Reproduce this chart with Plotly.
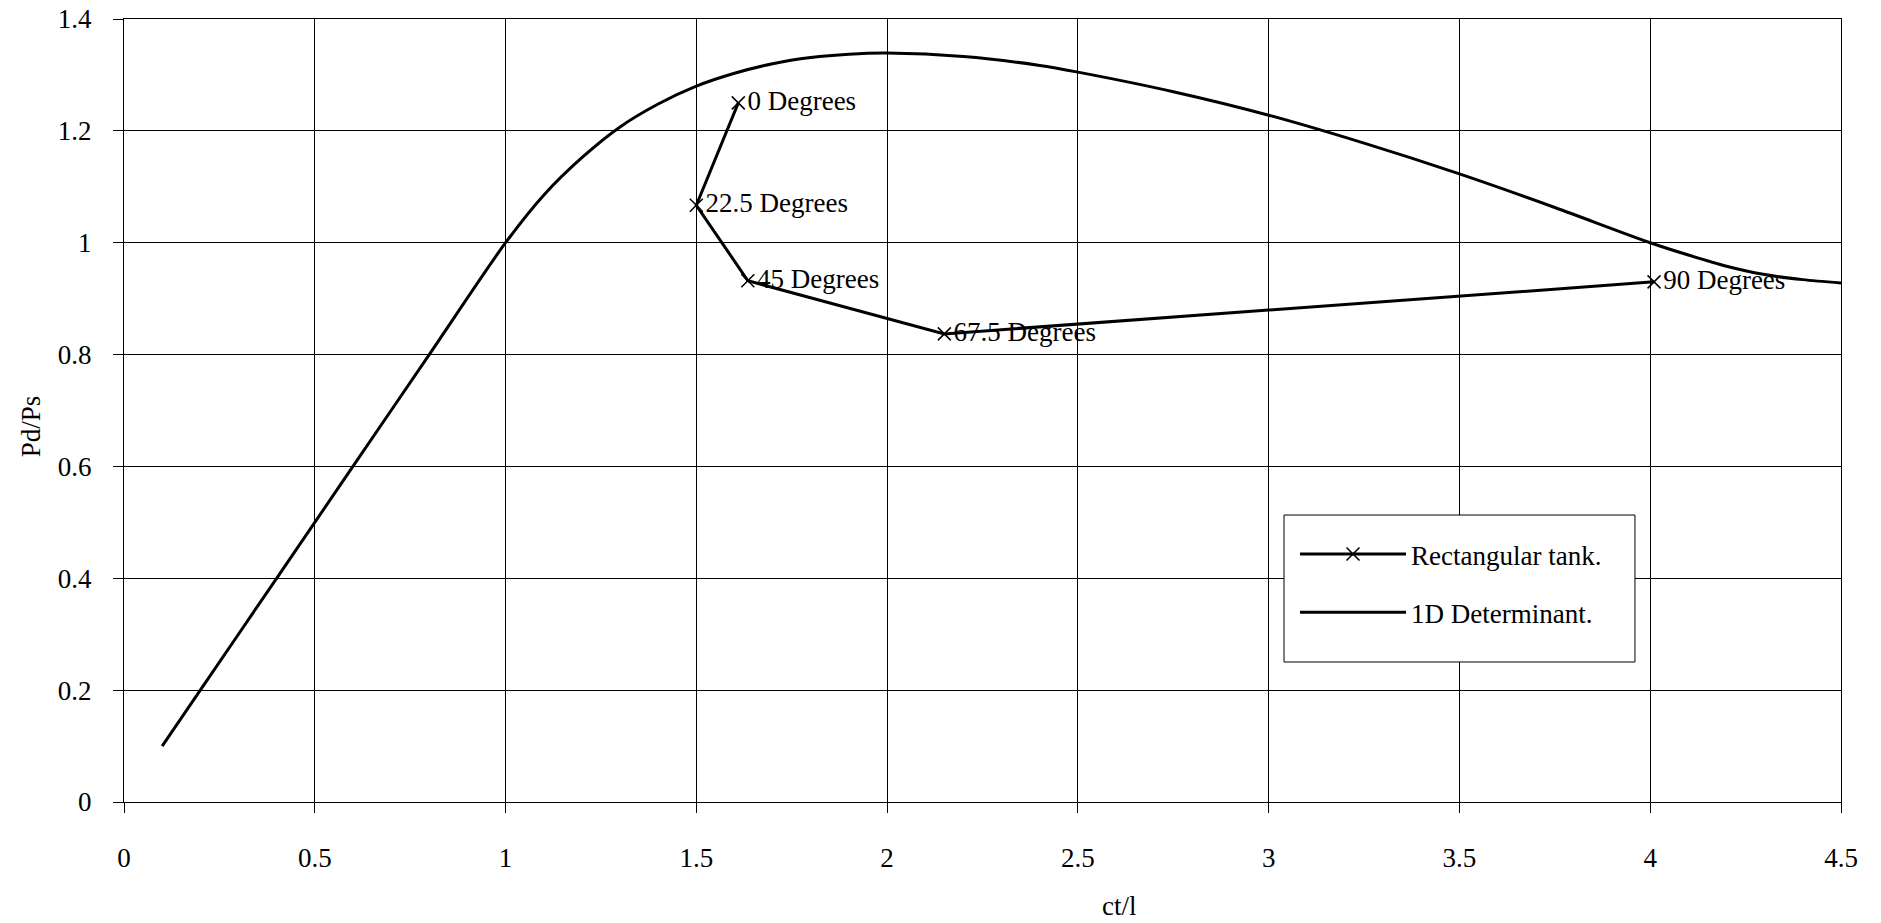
import plotly.graph_objects as go

# 1D Determinant curve
det_x = [0.1, 0.2, 0.4, 0.6, 0.8, 1.0, 1.1, 1.2, 1.3, 1.4, 1.5, 1.6, 1.7, 1.8, 1.9, 2.0,
         2.2, 2.4, 2.5, 2.75, 3.0, 3.25, 3.5, 3.75, 4.0, 4.1, 4.2, 4.3, 4.4, 4.5]
det_y = [0.1, 0.2, 0.4, 0.6, 0.8, 1.0, 1.085, 1.152, 1.207, 1.248, 1.280, 1.303, 1.320, 1.331, 1.337, 1.339,
         1.333, 1.317, 1.305, 1.27, 1.228, 1.178, 1.123, 1.063, 1.0, 0.978, 0.958, 0.943, 0.934, 0.928]

# Rectangular tank points
rect_x = [1.61, 1.50, 1.635, 2.15, 4.01]
rect_y = [1.25, 1.067, 0.932, 0.837, 0.930]
rect_labels = ["0 Degrees", "22.5 Degrees", "45 Degrees", "67.5 Degrees", "90 Degrees"]

x_ticks = [0, 0.5, 1, 1.5, 2, 2.5, 3, 3.5, 4, 4.5]
y_ticks = [0, 0.2, 0.4, 0.6, 0.8, 1, 1.2, 1.4]

FONT = "Liberation Serif, Times New Roman, serif"
FS = 27

fig = go.Figure()
fig.add_trace(go.Scatter(
    x=rect_x, y=rect_y, mode="lines+markers+text", name="Rectangular tank.",
    legendgroup="a",
    text=rect_labels, textposition="middle right",
    textfont=dict(family=FONT, size=FS, color="black"),
    line=dict(color="black", width=3),
    marker=dict(symbol="x-thin", size=13, line=dict(color="black", width=1.5), color="black"),
))
fig.add_trace(go.Scatter(
    x=det_x, y=det_y, mode="lines", name="1D Determinant.",
    legendgroup="b",
    line=dict(color="black", width=3, shape="spline", smoothing=0.8),
))

axis_common = dict(
    showgrid=True, gridcolor="black", gridwidth=1,
    showline=True, linecolor="black", linewidth=1, mirror=True,
    ticks="outside", ticklen=10, tickcolor="black", tickwidth=1,
    tickfont=dict(family=FONT, size=FS, color="black"),
    zeroline=False, automargin=False,
)
fig.update_xaxes(range=[0, 4.5], tickvals=x_ticks, ticklabelstandoff=22, **axis_common)
fig.update_yaxes(range=[0, 1.4], tickvals=y_ticks, ticklabelstandoff=16, **axis_common)

fig.add_annotation(text="ct/l", xref="x", yref="paper", x=2.61, y=0, yshift=-121,
                   showarrow=False, font=dict(family=FONT, size=FS, color="black"))
fig.add_annotation(text="Pd/Ps", xref="paper", yref="paper", x=0, y=0.48, xshift=-110,
                   textangle=-90, showarrow=False, font=dict(family=FONT, size=FS, color="black"))

# legend frame
fig.add_shape(type="rect", xref="paper", yref="paper",
              x0=0.6756, x1=0.880, y0=0.1788, y1=0.3665,
              fillcolor="white", line=dict(color="black", width=1), layer="above")

fig.update_layout(
    width=1881, height=923,
    margin=dict(l=124, r=40, t=19, b=121),
    plot_bgcolor="white", paper_bgcolor="white",
    showlegend=True,
    legend=dict(
        x=0.682, y=0.3474, xanchor="left", yanchor="top",
        bgcolor="rgba(0,0,0,0)", borderwidth=0,
        font=dict(family=FONT, size=FS, color="black"),
        itemwidth=106, traceorder="grouped", tracegroupgap=20,
    ),
)

fig.write_html("out.html")
